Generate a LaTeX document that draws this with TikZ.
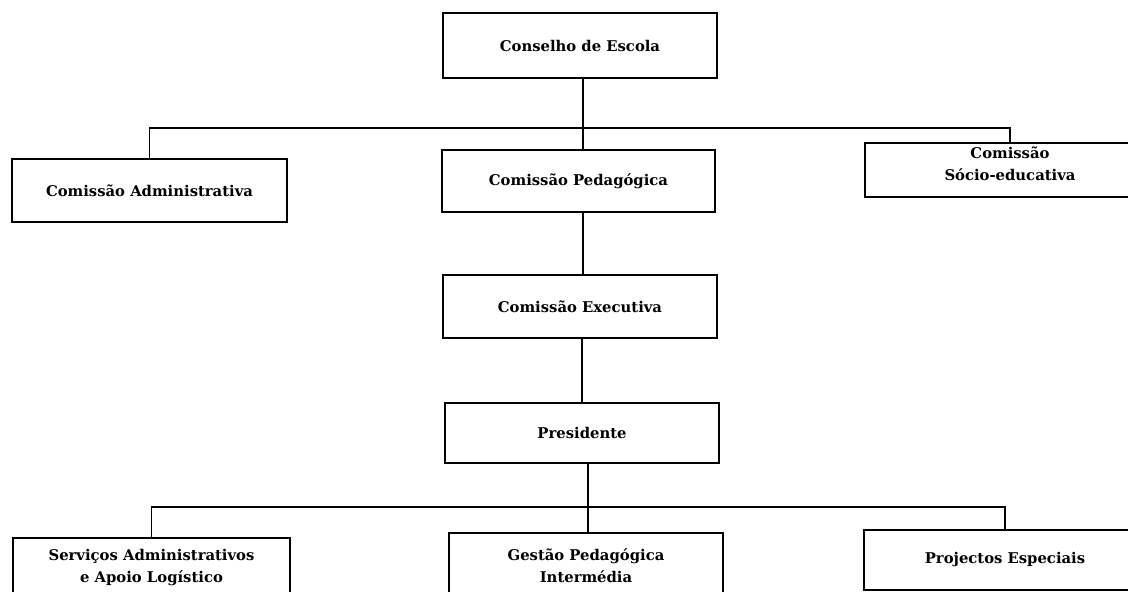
\documentclass[tikz,border=0pt]{standalone}
\usepackage{fontspec}
\setmainfont{DejaVu Serif}
\begin{document}
\begin{tikzpicture}[x=1pt,y=-1pt,
  txt/.style={align=center, inner sep=0pt, font=\fontsize{14.8}{22}\selectfont\bfseries},
  orgbox/.style={draw=black, line width=1.5pt, fill=white, txt},
  link/.style={draw=black, line width=1.5pt}]
\useasboundingbox (0,0) rectangle (1128,592);
\fill[white] (0,0) rectangle (1128,592);
\begin{scope}
\clip (0,0) rectangle (1128,592);
% board and committees
\node[orgbox, minimum width=274pt, minimum height=65pt] (cons) at (580,45.5) {Conselho de Escola};
\node[orgbox, minimum width=275pt, minimum height=63pt] (adm) at (149.5,190.5) {Comissão Administrativa};
\node[orgbox, minimum width=273pt, minimum height=62pt] (ped) at (578.5,181) {Comissão Pedagógica};
\node[orgbox, minimum width=290pt, minimum height=54pt,
  label={[txt, yshift=6pt]center:{Comissão\\Sócio-educativa}}] (soc) at (1010,170) {};
\node[orgbox, minimum width=274pt, minimum height=63pt] (exe) at (580,306.5) {Comissão Executiva};
\node[orgbox, minimum width=274pt, minimum height=60pt] (pre) at (582,433) {Presidente};
% services
\node[orgbox, minimum width=277pt, minimum height=60pt] (srv) at (151.5,568) {Serviços Administrativos\\e Apoio Logístico};
\node[orgbox, minimum width=274pt, minimum height=66pt] (ges) at (586,566) {Gestão Pedagógica\\Intermédia};
\node[orgbox, minimum width=282pt, minimum height=60pt] (prj) at (1005,560) {Projectos Especiais};
% bus lines
\coordinate (busA) at (583,128);
\coordinate (busB) at (588,507);
\draw[link] (cons.south -| busA) -- (ped.north -| busA);
\draw[link] (adm.north) |- (busA) -| (soc.north);
\draw[link] (ped.south -| busA) -- (exe.north -| busA);
\draw[link] (exe.south -| pre) -- (pre.north);
\draw[link] (pre.south -| busB) -- (ges.north -| busB);
\draw[link] (srv.north) |- (busB) -| (prj.north);
\end{scope}
\end{tikzpicture}
\end{document}
